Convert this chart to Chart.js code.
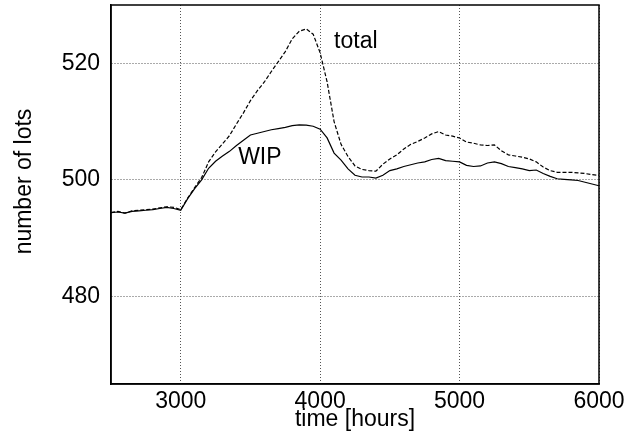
<!DOCTYPE html>
<html>
<head>
<meta charset="utf-8">
<script src="https://cdn.jsdelivr.net/npm/chart.js@4/dist/chart.umd.min.js"></script>
<style>
  html, body { margin: 0; padding: 0; background: #fff; }
  #wrap { width: 642px; height: 438px; position: relative; }
</style>
</head>
<body>
<div id="wrap"><canvas id="c" width="642" height="438"></canvas></div>
<script>
const times = [2500,2550,2600,2650,2700,2750,2800,2850,2900,2950,3000,3050,3100,3150,3200,3250,3300,3350,3400,3450,3500,3550,3600,3650,3700,3750,3800,3850,3900,3950,4000,4050,4100,4150,4200,4250,4300,4350,4400,4450,4500,4550,4600,4650,4700,4750,4800,4850,4900,4950,5000,5050,5100,5150,5200,5250,5300,5350,5400,5450,5500,5550,5600,5650,5700,5750,5800,5850,5900,5950,6000];
const wipLots = [494.4,494.5,494.3,494.6,494.7,494.8,494.9,495.1,495.3,495.1,494.8,496.8,498.5,500.0,502.0,503.2,504.1,504.9,505.9,506.8,507.7,508.0,508.3,508.6,508.8,509.0,509.3,509.45,509.4,509.2,508.7,507.2,504.6,503.4,501.9,500.8,500.5,500.5,500.3,500.8,501.6,501.9,502.3,502.6,502.9,503.1,503.5,503.7,503.3,503.2,503.1,502.5,502.3,502.4,502.9,503.1,502.8,502.3,502.1,501.9,501.6,501.7,501.1,500.6,500.2,500.1,500.0,499.9,499.6,499.3,499.0];
const totalLots = [494.4,494.6,494.3,494.7,494.8,494.9,495.0,495.2,495.4,495.3,494.9,496.9,498.7,500.4,503.1,504.8,506.2,507.6,509.6,511.5,513.6,515.3,516.8,518.6,520.3,522.0,524.2,525.5,525.9,525.0,521.8,516.8,510.0,506.1,504.0,502.4,501.8,501.6,501.5,502.7,503.6,504.3,505.3,506.1,506.6,507.2,507.9,508.3,507.7,507.5,507.2,506.5,506.3,506.0,505.9,506.0,505.0,504.3,504.1,503.9,503.6,503.1,502.2,501.6,501.3,501.3,501.3,501.2,501.1,500.9,500.8];
const xTicks = [3000, 4000, 5000, 6000];
const yTicks = [480, 500, 520];
const xRange = [2500, 6000];
const yRange = [465, 530];
const seriesLabels = ["WIP", "total"];
const xTitle = "time [hours]";
const yTitle = "number of lots";
// annotation anchors in data units
const labelTotal = { text: "total", x: 4100, y: 522.7 };
const labelWIP = { text: "WIP", x: 3412, y: 502.8 };

const FONT = "'Liberation Sans', Arial, Helvetica, sans-serif";

const overlay = {
  id: 'overlay',
  afterDraw(chart) {
    const ctx = chart.ctx;
    const a = chart.chartArea;
    const xs = chart.scales.x, ys = chart.scales.y;
    ctx.save();
    ctx.strokeStyle = '#000';
    ctx.lineWidth = 1.5;
    ctx.strokeRect(a.left, a.top, a.right - a.left, a.bottom - a.top);
    ctx.fillStyle = '#000';
    ctx.font = '23px ' + FONT;
    ctx.textAlign = 'left';
    ctx.textBaseline = 'alphabetic';
    [labelTotal, labelWIP].forEach(l => {
      ctx.fillText(l.text, xs.getPixelForValue(l.x), ys.getPixelForValue(l.y));
    });
    // y axis title
    ctx.translate(25, 181.5);
    ctx.rotate(-Math.PI / 2);
    ctx.textAlign = 'center';
    ctx.textBaseline = 'middle';
    ctx.fillText(yTitle, 0, 0);
    ctx.restore();
  }
};

new Chart(document.getElementById('c'), {
  type: 'line',
  data: {
    datasets: [
      {
        label: seriesLabels[0],
        data: times.map((t, i) => ({ x: t, y: wipLots[i] })),
        borderColor: '#000',
        borderWidth: 1.2,
        pointRadius: 0,
        tension: 0,
        fill: false
      },
      {
        label: seriesLabels[1],
        data: times.map((t, i) => ({ x: t, y: totalLots[i] })),
        borderColor: '#000',
        borderWidth: 1.2,
        borderDash: [4, 2],
        pointRadius: 0,
        tension: 0,
        fill: false
      }
    ]
  },
  options: {
    responsive: false,
    animation: false,
    devicePixelRatio: 1,
    layout: { padding: { top: 5, right: 43, left: 0, bottom: 0 } },
    plugins: {
      legend: { display: false },
      tooltip: { enabled: false },
      title: { display: false }
    },
    scales: {
      x: {
        type: 'linear',
        min: xRange[0],
        max: xRange[1],
        afterBuildTicks: s => { s.ticks = xTicks.map(v => ({ value: v })); },
        afterFit: s => { s.height = 54; s.paddingLeft = 0; s.paddingRight = 0; },
        ticks: {
          color: '#000',
          font: { family: FONT, size: 23, lineHeight: 1.2 },
          padding: 4,
          maxRotation: 0,
          autoSkip: false,
          callback: v => String(v)
        },
        grid: {
          color: '#555',
          lineWidth: 1,
          drawTicks: false
        },
        border: { display: true, color: '#000', width: 1.5, dash: [1, 2] },
        title: {
          display: true,
          text: xTitle,
          color: '#000',
          font: { family: FONT, size: 23, lineHeight: 1.2 },
          padding: { top: 0, bottom: 5 }
        }
      },
      y: {
        type: 'linear',
        min: yRange[0],
        max: yRange[1],
        afterBuildTicks: s => { s.ticks = yTicks.map(v => ({ value: v })); },
        afterFit: s => { s.width = 111; s.paddingTop = 0; s.paddingBottom = 0; },
        ticks: {
          color: '#000',
          font: { family: FONT, size: 23, lineHeight: 1.2 },
          padding: 11,
          callback: v => String(v)
        },
        grid: {
          color: '#555',
          lineWidth: 1,
          drawTicks: false
        },
        border: { display: true, color: '#000', width: 1.5, dash: [1, 2] },
        title: { display: false }
      }
    }
  },
  plugins: [overlay]
});
</script>
</body>
</html>
